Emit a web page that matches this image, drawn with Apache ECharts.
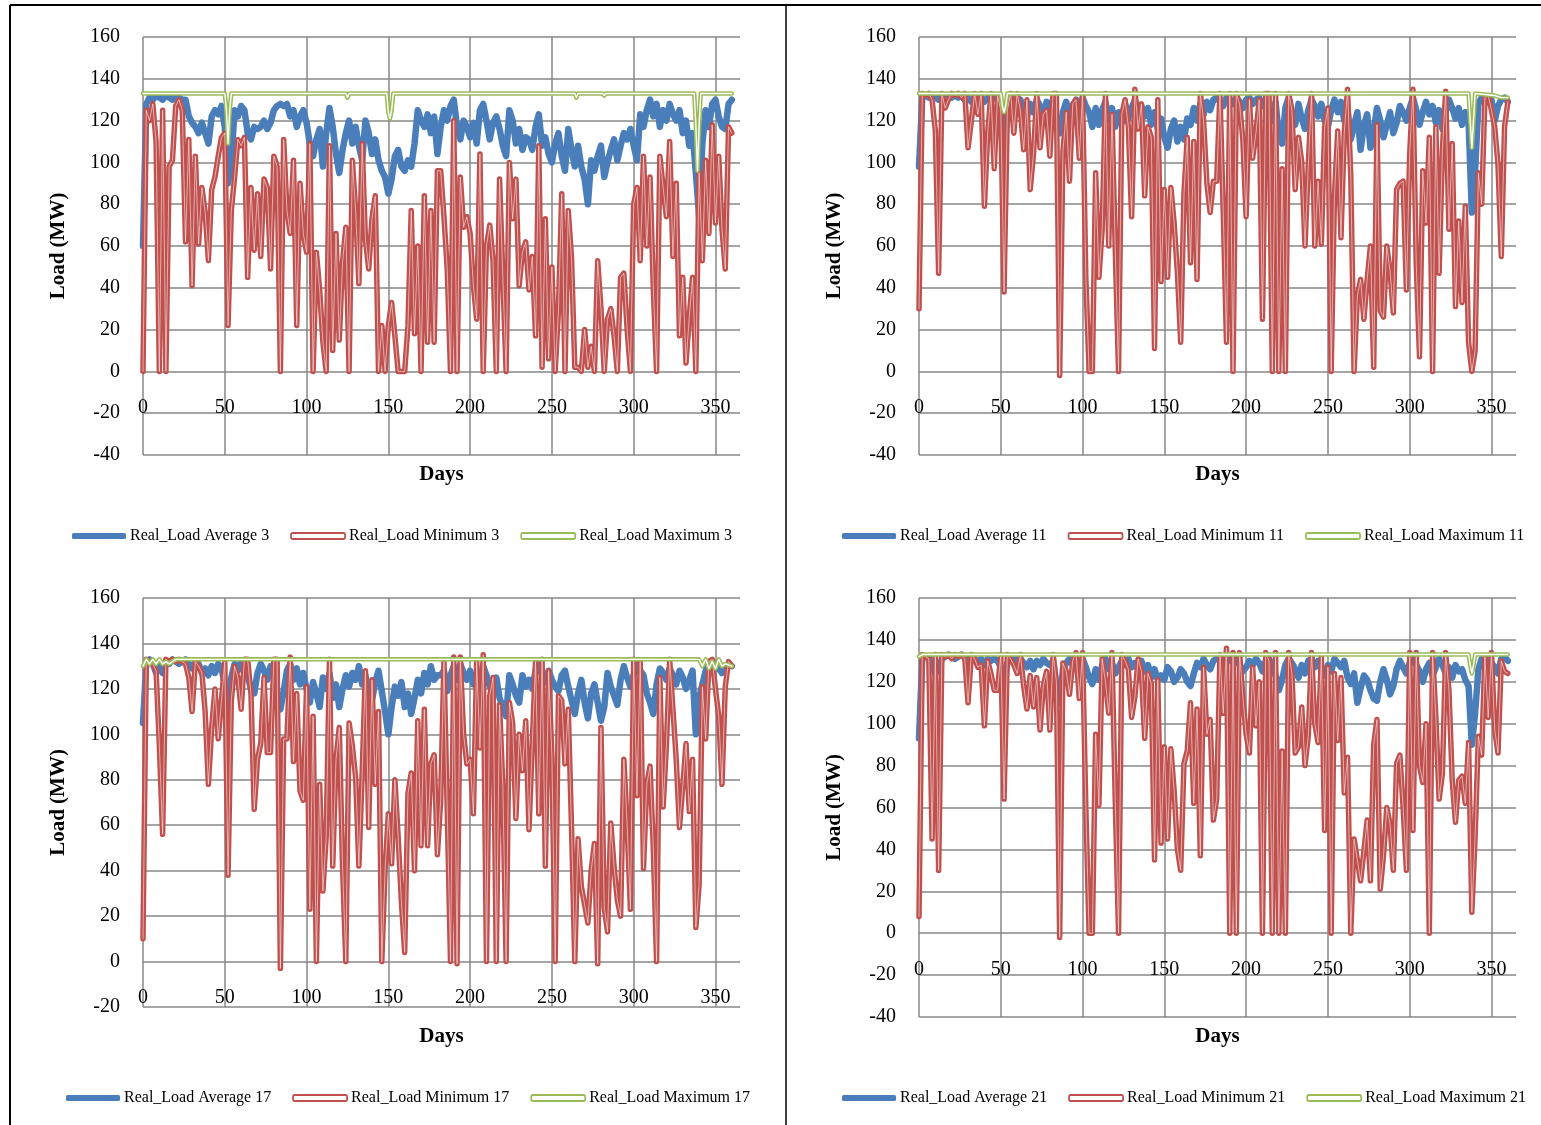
<!DOCTYPE html>
<html>
<head>
<meta charset="utf-8">
<script src="https://cdn.jsdelivr.net/npm/echarts@6/dist/echarts.min.js"></script>
<style>
  html, body { margin: 0; padding: 0; background: #ffffff; }
  #chart { width: 1541px; height: 1125px; }
</style>
</head>
<body>
<div id="chart"></div>
<script>
// Day of year for every sample (one reading every second day)
const days = Array.from({ length: 181 }, (_, i) => i * 2);

// ---- Unit 3 ----
const avg3 = [
  60,128,131,130,132,131,130,132,131,130,
  132,131,130,130,122,119,117,114,119,114,
  109,122,125,123,127,117,90,101,125,122,
  127,125,114,111,117,116,117,120,116,119,
  125,127,128,127,128,122,125,117,122,125,
  119,109,103,111,116,98,114,126,117,104,
  95,106,114,120,109,117,108,101,120,114,
  104,111,101,96,93,85,92,103,106,98,
  96,101,98,109,125,120,117,123,114,122,
  104,117,125,120,127,130,117,111,120,117,
  112,119,109,125,128,120,111,119,122,116,
  108,103,125,120,109,116,106,112,111,106,
  117,123,108,112,104,100,109,114,103,96,
  116,106,98,108,98,92,80,101,96,103,
  108,93,100,106,111,101,108,114,111,116,
  108,101,123,117,125,130,122,128,117,125,
  120,128,123,120,125,114,120,108,114,95,
  74,109,125,117,128,130,122,117,116,128,
  130
];
const min3 = [
  0,125,120,128,110,0,125,0,98,101,
  127,130,125,62,111,41,103,61,88,76,
  53,87,93,103,112,114,22,77,93,111,
  108,112,45,88,58,85,55,92,88,49,
  103,98,0,111,77,66,101,22,90,66,
  57,109,0,57,39,14,0,108,10,66,
  15,52,69,0,101,77,42,109,63,49,
  73,84,0,22,0,22,33,17,0,0,
  0,22,77,18,60,0,84,14,77,14,
  96,96,74,49,0,120,0,93,69,74,
  66,41,25,104,0,60,70,53,0,92,
  45,0,100,73,92,41,57,62,39,55,
  17,108,2,73,6,50,0,29,85,0,
  77,54,2,2,0,20,2,12,0,53,
  30,0,25,30,17,0,45,47,20,0,
  80,88,53,103,60,93,40,0,103,88,
  74,110,55,90,17,45,4,26,45,0,
  95,53,101,66,118,71,103,68,49,117,
  114
];
const maxDays3 = [0,50,51,52,53,54,124,125,126,149,150,151,152,153,264,265,266,281,282,283,337,338,339,340,341,360];
const maxVals3 = [133,133,125,109,125,133,133,131,133,133,124,121,125,133,133,131,133,133,132,133,133,118,96,118,133,133];

// ---- Unit 11 ----
const avg11 = [
  98,131,132,131,132,131,130,132,131,132,
  131,132,131,132,130,131,129,131,130,131,
  129,131,130,131,130,128,98,128,131,129,
  127,130,125,122,128,124,130,127,123,129,
  126,130,116,114,124,129,122,127,130,124,
  131,127,124,117,126,118,125,129,120,126,
  117,124,119,128,121,126,130,124,127,122,
  126,118,124,116,121,112,107,116,120,110,
  117,111,121,118,126,120,128,123,129,125,
  130,131,129,127,131,130,128,131,129,126,
  130,131,128,130,131,127,130,124,120,129,
  113,109,126,131,122,118,128,121,116,125,
  130,127,122,128,120,117,125,130,124,129,
  120,125,111,118,124,106,118,123,107,115,
  126,120,112,118,124,114,119,127,124,120,
  126,131,125,118,124,129,123,127,119,125,
  116,124,130,126,121,126,118,124,120,76,
  96,128,131,129,131,130,120,127,130,131,
  129
];
const min11 = [
  30,133,132,133,130,115,47,133,126,130,
  133,132,133,131,133,107,120,133,123,133,
  79,114,133,97,132,125,38,125,133,114,
  133,125,106,130,87,104,133,107,123,125,
  103,133,133,-2,105,124,91,128,130,102,
  133,45,0,0,95,45,68,133,60,123,
  58,0,123,130,117,74,135,116,128,84,
  117,112,11,130,43,87,45,88,71,47,
  14,85,112,52,110,44,133,120,90,76,
  91,91,133,77,14,133,0,133,128,111,
  74,130,102,114,130,25,133,133,0,133,
  0,97,0,133,125,87,112,100,60,98,
  133,60,91,61,117,126,0,84,115,64,
  114,135,93,0,36,44,25,44,60,2,
  118,29,26,60,48,28,87,90,91,39,
  104,135,52,7,96,71,112,0,117,47,
  106,134,68,109,31,72,33,79,14,0,
  10,95,80,131,132,125,117,99,55,117,
  129
];
const maxDays11 = [0,50,51,52,53,54,336,337,338,339,340,352,356,360];
const maxVals11 = [133,133,127,124,127,133,133,120,107,120,133,132,131,131];

// ---- Unit 17 ----
const avg17 = [
  105,131,133,131,127,132,127,132,131,133,
  132,131,132,133,131,129,132,131,127,129,
  126,130,127,131,129,122,105,125,131,128,
  132,130,126,120,118,127,131,128,124,130,
  127,118,111,119,128,131,124,129,122,127,
  120,114,123,118,112,125,120,127,116,122,
  112,120,126,121,127,124,130,122,126,118,
  115,123,128,119,110,100,112,121,117,123,
  112,118,109,116,124,118,127,122,130,124,
  126,126,128,119,126,130,124,131,127,124,
  128,122,127,124,130,126,121,120,125,116,
  112,108,126,122,117,114,126,121,124,120,
  128,131,126,123,128,124,121,119,126,128,
  121,115,109,118,124,114,107,118,122,114,
  106,112,127,121,117,113,124,130,125,121,
  126,131,128,126,118,114,109,122,129,127,
  124,129,126,122,128,125,120,124,128,100,
  116,122,128,131,130,131,129,127,130,131,
  130
];
const min17 = [
  10,133,132,131,128,95,56,133,132,133,
  132,133,132,131,125,110,132,130,127,110,
  78,103,120,98,115,132,38,115,130,125,
  111,133,133,118,67,89,96,125,92,92,
  133,133,-3,98,98,134,88,118,75,71,
  121,23,108,0,78,31,55,133,42,89,
  103,42,0,105,95,81,42,83,128,59,
  124,78,110,0,40,65,43,80,55,26,
  4,74,83,40,106,51,111,51,87,91,
  47,71,132,67,0,134,-1,134,100,87,
  89,65,132,94,135,0,117,125,0,113,
  77,0,114,105,63,100,84,106,58,96,
  132,65,133,42,128,90,0,117,115,87,
  111,59,0,54,33,25,17,40,52,-1,
  103,24,13,61,42,27,20,89,60,23,
  133,73,132,41,78,86,50,0,125,68,
  95,133,111,89,59,77,96,66,89,15,
  34,121,98,132,133,120,108,78,121,132,
  130
];
const maxDays17 = [0,2,4,6,8,10,12,14,16,20,340,342,344,346,348,350,352,354,356,360];
const maxVals17 = [130,133,131,133,131,133,131,132,131,133,133,130,133,129,132,129,133,130,131,130];

// ---- Unit 21 ----
const avg21 = [
  93,131,132,132,128,124,126,131,132,133,
  132,131,132,133,132,130,132,131,129,131,
  128,131,130,131,130,127,119,129,131,130,
  132,131,129,127,130,126,130,128,131,129,
  128,130,117,110,126,129,131,128,130,126,
  131,127,122,119,126,121,128,131,126,129,
  124,127,130,128,131,127,129,126,130,125,
  128,122,126,121,123,121,127,125,120,122,
  126,124,120,118,124,129,127,131,128,126,
  130,131,132,130,132,131,129,131,128,125,
  127,130,128,131,129,125,130,131,127,123,
  116,121,128,131,129,126,122,128,124,130,
  131,127,130,126,123,128,125,131,129,127,
  130,122,119,124,110,117,123,121,116,112,
  111,120,126,121,114,118,126,130,127,124,
  129,131,128,125,120,126,129,123,127,131,
  128,124,127,122,128,125,126,121,118,90,
  105,126,131,130,132,129,127,124,131,132,
  130
];
const min21 = [
  8,133,132,131,45,133,30,133,132,133,
  131,133,132,133,131,110,133,131,127,128,
  99,130,124,116,116,133,64,133,131,128,
  124,133,118,107,123,108,122,97,118,125,
  97,133,120,-2,129,125,114,130,134,112,
  134,60,0,0,95,61,131,120,105,134,
  63,0,133,130,126,103,113,131,125,93,
  124,119,35,121,43,89,45,88,68,40,
  30,81,87,110,62,107,37,127,95,102,
  54,64,133,105,136,0,134,0,134,113,
  95,86,127,99,120,0,134,130,0,134,
  0,87,0,134,124,86,89,108,80,94,
  134,100,91,132,49,127,0,124,92,122,
  67,84,0,45,35,25,39,54,25,90,
  102,21,37,60,52,30,81,85,60,30,
  134,49,134,80,72,100,0,134,103,64,
  76,134,116,73,53,73,75,62,91,10,
  46,94,85,132,103,134,97,86,130,125,
  124
];
const maxDays21 = [0,2,336,337,338,339,340,360];
const maxVals21 = [132,133,133,128,124,128,133,133];

// Shared axis ticks
const dayTicks = { min: 0, max: 365, interval: 50 };
const loadTicksInterval = 20;

const BLUE = '#4a7ebb', RED = '#c0504d', GREEN = '#9bbb59', GRID = '#878787';
const FONT = 'Liberation Serif';

const panels = [
  { unit: '3',  avg: avg3,  min: min3,  maxDays: maxDays3,  maxVals: maxVals3,
    grid: { left: 143, top: 37,  width: 597, height: 418 }, yMin: -40, xOffset: -65, daysGap: 74, legendLeft: 72,  legendTop: 528 },
  { unit: '11', avg: avg11, min: min11, maxDays: maxDays11, maxVals: maxVals11,
    grid: { left: 919, top: 37,  width: 597, height: 418 }, yMin: -40, xOffset: -65, daysGap: 74, legendLeft: 842, legendTop: 528 },
  { unit: '17', avg: avg17, min: min17, maxDays: maxDays17, maxVals: maxVals17,
    grid: { left: 143, top: 598, width: 597, height: 409 }, yMin: -20, xOffset: -27, daysGap: 46, legendLeft: 66,  legendTop: 1090 },
  { unit: '21', avg: avg21, min: min21, maxDays: maxDays21, maxVals: maxVals21,
    grid: { left: 919, top: 598, width: 597, height: 419 }, yMin: -40, xOffset: -65, daysGap: 74, legendLeft: 842, legendTop: 1090 }
];

const zip = (xs, ys) => xs.map((x, i) => [x, ys[i]]);

const option = {
  animation: false,
  backgroundColor: '#ffffff',
  grid: panels.map(p => Object.assign({ containLabel: false }, p.grid)),
  xAxis: panels.map((p, i) => ({
    type: 'value', gridIndex: i,
    min: dayTicks.min, max: dayTicks.max, interval: dayTicks.interval,
    position: 'bottom', offset: p.xOffset,
    name: 'Days', nameLocation: 'middle', nameGap: p.daysGap,
    nameTextStyle: { fontFamily: FONT, fontSize: 21, fontWeight: 'bold', color: '#000' },
    axisLine: { show: false }, axisTick: { show: false },
    axisLabel: { fontFamily: FONT, fontSize: 20, color: '#000', margin: 8, showMaxLabel: false,
                 formatter: v => (v % 50 === 0 ? String(v) : '') },
    splitLine: { show: true, lineStyle: { color: [GRID, GRID, GRID, GRID, GRID, GRID, GRID, GRID, 'rgba(0,0,0,0)'], width: 1.5 } }
  })),
  yAxis: panels.map((p, i) => ({
    type: 'value', gridIndex: i,
    min: p.yMin, max: 160, interval: loadTicksInterval,
    name: 'Load (MW)', nameLocation: 'middle', nameGap: 74,
    nameTextStyle: { fontFamily: FONT, fontSize: 21, fontWeight: 'bold', color: '#000' },
    axisLine: { show: false }, axisTick: { show: false },
    axisLabel: { fontFamily: FONT, fontSize: 20, color: '#000', margin: 23 },
    splitLine: { show: true, lineStyle: { color: GRID, width: 1.5 } }
  })),
  legend: panels.map(p => ({
    left: p.legendLeft, top: p.legendTop, width: 720, orient: 'horizontal', padding: 0,
    itemWidth: 54, itemHeight: 6, itemGap: 21,
    textStyle: { fontFamily: FONT, fontSize: 16, color: '#000', padding: [0, 0, 0, -1] },
    data: [
      { name: 'Real_Load Average ' + p.unit, icon: 'roundRect', itemStyle: { color: BLUE, borderWidth: 0 } },
      { name: 'Real_Load Minimum ' + p.unit, icon: 'roundRect', itemStyle: { color: '#ffffff', borderColor: RED, borderWidth: 1.8 } },
      { name: 'Real_Load Maximum ' + p.unit, icon: 'roundRect', itemStyle: { color: '#ffffff', borderColor: GREEN, borderWidth: 1.8 } }
    ]
  })),
  series: [],
  graphic: [
    { type: 'line', shape: { x1: 10, y1: 5, x2: 1541, y2: 5 }, style: { stroke: '#000', lineWidth: 2 } },
    { type: 'line', shape: { x1: 10, y1: 5, x2: 10, y2: 1125 }, style: { stroke: '#000', lineWidth: 2 } },
    { type: 'line', shape: { x1: 786, y1: 5, x2: 786, y2: 1125 }, style: { stroke: '#000', lineWidth: 1.5 } }
  ]
};

panels.forEach((p, i) => {
  const base = { type: 'line', xAxisIndex: i, yAxisIndex: i, showSymbol: false, symbol: 'none', silent: true };
  const avgData = zip(days, p.avg);
  const minData = zip(days, p.min);
  const maxData = zip(p.maxDays, p.maxVals);
  // average: solid thick blue
  option.series.push(Object.assign({}, base, {
    name: 'Real_Load Average ' + p.unit, data: avgData,
    lineStyle: { color: BLUE, width: 6.5, cap: 'round', join: 'round' }, itemStyle: { color: BLUE }
  }));
  // minimum: double stroke (red edges with a light core)
  option.series.push(Object.assign({}, base, {
    name: 'Real_Load Minimum ' + p.unit, data: minData,
    lineStyle: { color: RED, width: 5.5, cap: 'round', join: 'round' }, itemStyle: { color: RED }
  }));
  option.series.push(Object.assign({}, base, {
    name: 'Real_Load Minimum ' + p.unit, data: minData,
    lineStyle: { color: '#ffffff', width: 0.9, opacity: 0.6, cap: 'round', join: 'round' }, itemStyle: { color: RED }
  }));
  // maximum: double stroke in green
  option.series.push(Object.assign({}, base, {
    name: 'Real_Load Maximum ' + p.unit, data: maxData,
    lineStyle: { color: GREEN, width: 4.5, cap: 'round', join: 'round' }, itemStyle: { color: GREEN }
  }));
  option.series.push(Object.assign({}, base, {
    name: 'Real_Load Maximum ' + p.unit, data: maxData,
    lineStyle: { color: '#ffffff', width: 1.4, cap: 'round', join: 'round' }, itemStyle: { color: GREEN }
  }));
});

const chart = echarts.init(document.getElementById('chart'), null, { renderer: 'canvas' });
chart.setOption(option);
</script>
</body>
</html>
